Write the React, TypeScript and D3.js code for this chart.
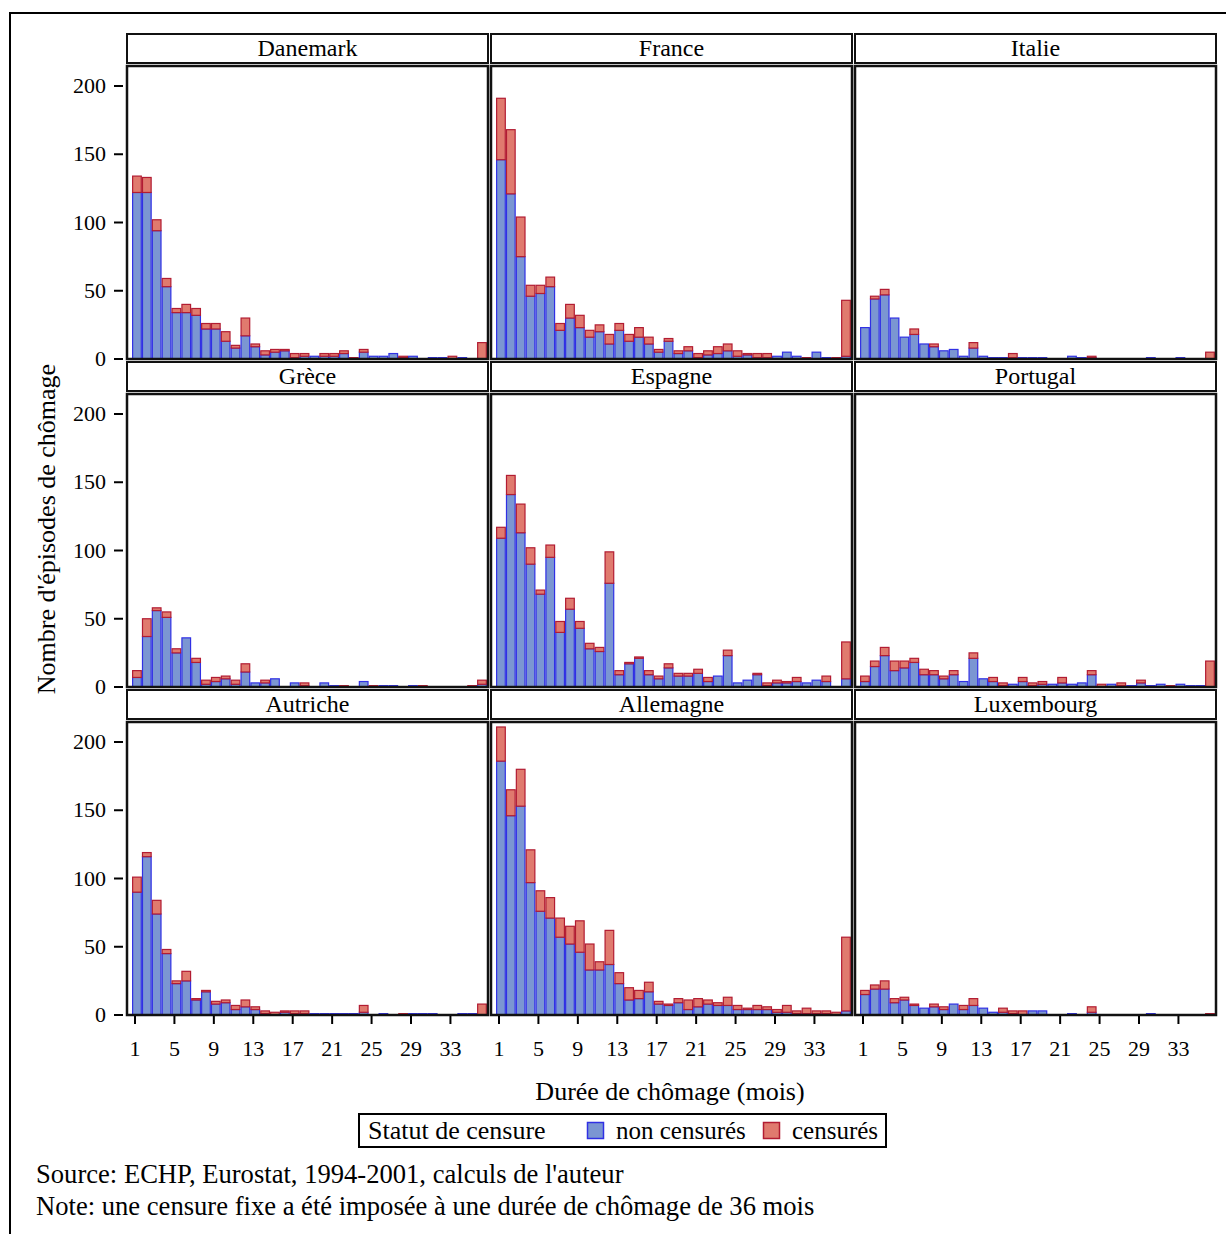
import React from 'react';
import * as d3 from 'd3';

// mois 1..36
const months = [
  1, 2, 3, 4, 5, 6, 7, 8, 9, 10, 11, 12, 13, 14, 15, 16, 17, 18,
  19, 20, 21, 22, 23, 24, 25, 26, 27, 28, 29, 30, 31, 32, 33, 34, 35, 36,
];
const xTickValues = [1, 5, 9, 13, 17, 21, 25, 29, 33];
const yTickValues = [0, 50, 100, 150, 200];

// non censurés / censurés, par pays
const danemarkNon = [122, 122, 94, 53, 34, 34, 32, 22, 22, 13, 8, 17, 9, 3, 5, 6, 1, 2, 2, 2, 2, 4, 0, 5, 2, 2, 4, 1, 2, 0, 1, 1, 0, 1, 0, 0];
const danemarkCens = [12, 11, 8, 6, 3, 6, 5, 4, 4, 7, 2, 13, 2, 3, 2, 1, 3, 2, 0, 2, 2, 2, 1, 2, 0, 0, 0, 1, 0, 0, 0, 0, 2, 0, 0, 12];

const franceNon = [146, 121, 75, 46, 48, 53, 21, 30, 23, 16, 20, 11, 21, 13, 16, 11, 5, 13, 4, 6, 1, 3, 4, 6, 2, 3, 1, 1, 2, 5, 2, 0, 5, 1, 0, 2];
const franceCens = [45, 47, 29, 8, 6, 7, 5, 10, 9, 5, 5, 7, 5, 5, 7, 5, 2, 2, 2, 3, 3, 3, 5, 5, 4, 1, 3, 3, 0, 0, 0, 1, 0, 0, 1, 41];

const italieNon = [23, 44, 47, 30, 16, 18, 11, 9, 6, 7, 2, 8, 2, 1, 1, 1, 1, 1, 1, 0, 0, 2, 1, 1, 0, 0, 0, 0, 0, 1, 0, 0, 1, 0, 0, 0];
const italieCens = [0, 2, 4, 0, 0, 4, 0, 2, 0, 0, 0, 4, 0, 0, 0, 3, 0, 0, 0, 0, 0, 0, 0, 1, 0, 0, 0, 0, 0, 0, 0, 0, 0, 0, 0, 5];

const greceNon = [7, 37, 56, 51, 25, 36, 18, 2, 4, 6, 2, 11, 3, 3, 6, 0, 3, 1, 0, 3, 1, 0, 0, 4, 0, 1, 1, 0, 1, 0, 0, 0, 0, 0, 0, 2];
const greceCens = [5, 13, 2, 4, 3, 0, 3, 3, 3, 2, 3, 6, 0, 2, 0, 0, 0, 2, 0, 0, 0, 1, 0, 0, 1, 0, 0, 0, 0, 1, 0, 0, 0, 0, 1, 3];

const espagneNon = [109, 141, 113, 90, 68, 95, 40, 57, 43, 28, 26, 76, 9, 17, 21, 9, 6, 14, 8, 8, 10, 4, 8, 23, 3, 5, 9, 1, 3, 3, 4, 3, 5, 4, 0, 6];
const espagneCens = [8, 14, 21, 12, 3, 9, 8, 8, 5, 4, 3, 23, 3, 1, 1, 3, 2, 3, 2, 2, 3, 3, 0, 4, 0, 0, 1, 2, 2, 1, 3, 0, 0, 4, 0, 27];

const portugalNon = [4, 15, 23, 12, 14, 18, 9, 9, 6, 9, 4, 21, 6, 4, 1, 2, 4, 1, 2, 2, 3, 2, 3, 9, 0, 2, 1, 1, 3, 1, 2, 0, 2, 1, 1, 0];
const portugalCens = [4, 4, 6, 7, 5, 3, 4, 3, 2, 3, 0, 4, 0, 3, 2, 0, 3, 2, 2, 0, 4, 0, 0, 3, 2, 0, 2, 0, 2, 0, 0, 1, 0, 0, 0, 19];

const autricheNon = [90, 116, 74, 45, 23, 25, 11, 17, 8, 9, 4, 6, 4, 1, 0, 2, 1, 1, 1, 1, 1, 1, 1, 2, 0, 1, 0, 0, 1, 1, 1, 0, 0, 1, 1, 0];
const autricheCens = [11, 3, 10, 3, 2, 7, 1, 1, 2, 2, 3, 5, 2, 2, 2, 1, 2, 2, 0, 0, 0, 0, 0, 5, 0, 0, 0, 1, 0, 0, 0, 0, 0, 0, 0, 8];

const allemagneNon = [186, 146, 153, 97, 76, 71, 57, 52, 46, 33, 33, 37, 23, 11, 12, 17, 8, 7, 9, 4, 6, 8, 7, 7, 4, 4, 4, 4, 2, 2, 1, 1, 1, 1, 0, 3];
const allemagneCens = [25, 19, 27, 24, 15, 15, 14, 13, 23, 19, 6, 25, 8, 9, 6, 7, 2, 1, 3, 7, 6, 3, 2, 6, 3, 1, 3, 2, 2, 5, 2, 4, 2, 2, 2, 54];

const luxembourgNon = [15, 19, 19, 9, 11, 7, 5, 6, 4, 8, 4, 7, 5, 2, 2, 1, 0, 3, 3, 0, 0, 1, 0, 2, 0, 0, 0, 0, 0, 1, 0, 0, 0, 0, 0, 0];
const luxembourgCens = [3, 3, 6, 3, 2, 1, 0, 2, 2, 0, 3, 5, 0, 0, 3, 2, 3, 0, 0, 0, 0, 0, 0, 4, 0, 0, 0, 0, 0, 0, 0, 0, 0, 0, 0, 1];

const countries = ['Danemark', 'France', 'Italie', 'Grèce', 'Espagne', 'Portugal', 'Autriche', 'Allemagne', 'Luxembourg'];
const nonSeries = [danemarkNon, franceNon, italieNon, greceNon, espagneNon, portugalNon, autricheNon, allemagneNon, luxembourgNon];
const censSeries = [danemarkCens, franceCens, italieCens, greceCens, espagneCens, portugalCens, autricheCens, allemagneCens, luxembourgCens];

const FONT = '"Liberation Serif", "Times New Roman", serif';
const BLUE_FILL = '#7b96d2';
const BLUE_STROKE = '#3030e4';
const RED_FILL = '#e07a6e';
const RED_STROKE = '#b21c32';

const COL_LEFT = [127, 491, 855];
const PANEL_W = 361;
const ROW_TOP = [34, 362, 690];
const HEADER_H = 29;

function Panel({ idx }) {
  const col = idx % 3;
  const row = Math.floor(idx / 3);
  const left = COL_LEFT[col];
  const top = ROW_TOP[row];
  const plotTop = top + 32;
  const base = top + 325;

  const x = d3.scaleLinear().domain([0.19, 36.81]).range([left, left + PANEL_W]);
  const y = d3.scaleLinear().domain([0, 200]).range([base, base - 273]);

  const non = nonSeries[idx];
  const cens = censSeries[idx];

  return (
    <g>
      <rect x={left} y={top} width={PANEL_W} height={HEADER_H} fill="#fff" stroke="#111" strokeWidth={2} />
      <text x={left + PANEL_W / 2} y={top + 22} textAnchor="middle" fontSize={24} fontFamily={FONT}>
        {countries[idx]}
      </text>

      {months.map((m, i) => {
        const x0 = x(m - 0.3) + 0.6;
        const w = x(m + 0.7) - x(m - 0.3) - 1.2;
        const nv = non[i];
        const cv = cens[i];
        return (
          <g key={m}>
            {nv > 0 ? (
              <rect x={x0} y={y(nv)} width={w} height={y(0) - y(nv)}
                fill={BLUE_FILL} stroke={BLUE_STROKE} strokeWidth={1.2} />
            ) : null}
            {cv > 0 ? (
              <rect x={x0} y={y(nv + cv)} width={w} height={y(nv) - y(nv + cv)}
                fill={RED_FILL} stroke={RED_STROKE} strokeWidth={1.2} />
            ) : null}
          </g>
        );
      })}

      <rect x={left} y={plotTop} width={PANEL_W} height={base - plotTop} fill="none" stroke="#111" strokeWidth={2.5} />

      {col === 0 ? yTickValues.map((v) => (
        <g key={`y-${v}`}>
          <line x1={left - 13} x2={left - 4} y1={y(v)} y2={y(v)} stroke="#000" strokeWidth={2} />
          <text x={left - 21} y={y(v) + 7} textAnchor="end" fontSize={22} fontFamily={FONT}>{v}</text>
        </g>
      )) : null}

      {row === 2 ? xTickValues.map((v) => (
        <g key={`x-${v}`}>
          <line x1={x(v)} x2={x(v)} y1={base + 1} y2={base + 9} stroke="#000" strokeWidth={2} />
          <text x={x(v)} y={base + 41} textAnchor="middle" fontSize={22} fontFamily={FONT}>{v}</text>
        </g>
      )) : null}
    </g>
  );
}

export default function App() {
  return (
    <div style={{ position: 'absolute', left: 0, top: 0 }}>
      <svg width={1226} height={1234} style={{ display: 'block', background: '#fff' }}>
        <rect x={10} y={13} width={1240} height={1260} fill="#fff" stroke="#000" strokeWidth={2} />

        {countries.map((c, i) => <Panel key={c} idx={i} />)}

        <text
          transform="translate(55,529) rotate(-90)"
          textAnchor="middle"
          fontSize={26}
          fontFamily={FONT}
        >
          Nombre d'épisodes de chômage
        </text>

        <text x={670} y={1100} textAnchor="middle" fontSize={26} fontFamily={FONT}>
          Durée de chômage (mois)
        </text>

        <rect x={359} y={1114} width={527} height={33} fill="#fff" stroke="#000" strokeWidth={2} />
        <text x={368} y={1139} fontSize={26} fontFamily={FONT}>Statut de censure</text>
        <rect x={587.5} y={1122.5} width={16} height={16} fill={BLUE_FILL} stroke={BLUE_STROKE} strokeWidth={1.5} />
        <text x={616} y={1139} fontSize={25} fontFamily={FONT}>non censurés</text>
        <rect x={763.5} y={1122.5} width={16} height={16} fill={RED_FILL} stroke={RED_STROKE} strokeWidth={1.5} />
        <text x={792} y={1139} fontSize={25} fontFamily={FONT}>censurés</text>

        <text x={36} y={1183} fontSize={26.6} fontFamily={FONT}>
          Source: ECHP, Eurostat, 1994-2001, calculs de l'auteur
        </text>
        <text x={36} y={1215} fontSize={26.6} fontFamily={FONT}>
          Note: une censure fixe a été imposée à une durée de chômage de 36 mois
        </text>
      </svg>
    </div>
  );
}
